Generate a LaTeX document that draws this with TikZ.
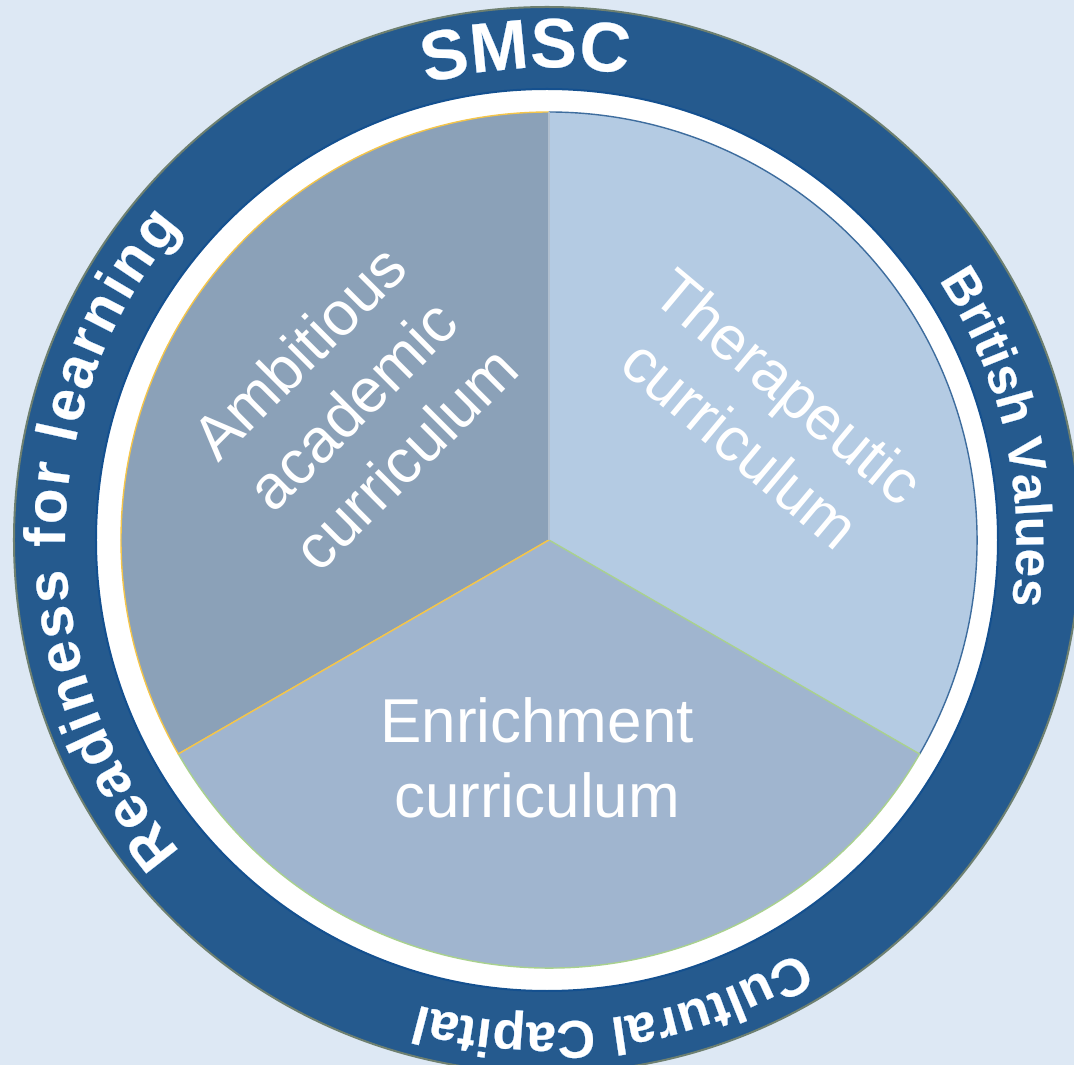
\documentclass[tikz,border=0pt]{standalone}
\usepackage{fontspec}
\setmainfont{Liberation Sans}
\usetikzlibrary{decorations.text}
\definecolor{bgc}{HTML}{DDE8F4}
\definecolor{ringblue}{HTML}{255A8E}
\definecolor{ringedge}{HTML}{6E8070}
\definecolor{ringinner}{HTML}{14508F}
\definecolor{secA}{HTML}{8BA1B8}
\definecolor{secB}{HTML}{B4CBE3}
\definecolor{secC}{HTML}{A0B5CF}
\definecolor{lineA}{HTML}{F4C54A}
\definecolor{lineB}{HTML}{3E6D9E}
\definecolor{lineC}{HTML}{A9D18E}
\definecolor{divline}{HTML}{B0BFCF}
\definecolor{glowA}{HTML}{3C74AE}
\definecolor{glowB}{HTML}{6399CE}
\tikzset{
  pietext/.style={text=white, align=center, inner sep=0pt, font=\fontsize{62}{75}\selectfont},
}
% #1 font size, #2 radius, #3 start angle, #4 end angle, #5 text, #6 alignment
\newcommand\ringlabel[6]{%
  \foreach \gr/\gc in {4/glowA,2/glowB}{%
    \foreach \ga in {0,45,...,315}{%
      \path[shift={(\ga:\gr pt)},decorate,decoration={text along path,text align=#6,
        text={|\color{\gc}\fontsize{#1}{#1}\selectfont\bfseries|#5}}]
        ([shift={(#3:#2pt)}]ringctr) arc[start angle=#3,end angle=#4,radius=#2pt];
    }%
  }%
  \path[decorate,decoration={text along path,text align=#6,
    text={|\color{white}\fontsize{#1}{#1}\selectfont\bfseries|#5}}]
    ([shift={(#3:#2pt)}]ringctr) arc[start angle=#3,end angle=#4,radius=#2pt];
}
\begin{document}
\begin{tikzpicture}[x=1pt,y=1pt]
\useasboundingbox (-549,-525) rectangle (525,540);
\fill[bgc] (-549,-525) rectangle (525,540);
\coordinate (ringctr) at (-2,0);
\coordinate (piectr) at (0,0);
% outer ring
\fill[ringblue,draw=ringedge,line width=2pt] (ringctr) circle[radius=533pt];
\fill[white,draw=ringinner,line width=2pt] (ringctr) circle[radius=451pt];
% sectors
\fill[secB] (piectr) -- (-30:428pt) arc[start angle=-30,end angle=90,radius=428pt] -- cycle;
\draw[lineB,line width=1.4pt] (-30:428pt) arc[start angle=-30,end angle=90,radius=428pt];
\fill[secA] (piectr) -- (90:428pt) arc[start angle=90,end angle=210,radius=428pt] -- cycle;
\draw[lineA,line width=1.4pt] (90:428pt) arc[start angle=90,end angle=210,radius=428pt] -- (piectr);
\fill[secC] (piectr) -- (210:428pt) arc[start angle=210,end angle=330,radius=428pt] -- cycle;
\draw[lineC,line width=1.4pt] (210:428pt) arc[start angle=210,end angle=330,radius=428pt] -- (piectr);
\draw[lineA,line width=1.4pt] (piectr) -- (210:428pt);
\draw[divline,line width=1.6pt] (piectr) -- (90:428pt);
% sector texts
\node[pietext,rotate=45] (ambitious) at (-197,135) {Ambitious\\academic\\curriculum};
\node[pietext,rotate=-40] (therapeutic) at (216,125) {Therapeutic\\curriculum};
\node[pietext] (enrichment) at (-12,-218) {Enrichment\\curriculum};
% ring texts
\ringlabel{70}{472}{107}{78}{SMSC}{center}
\ringlabel{51}{470}{33.5}{-7.5}{British Values}{fit to path}
\ringlabel{53}{483}{-58.5}{-105.5}{Cultural Capital}{fit to path}
\ringlabel{58}{481}{220.5}{139.5}{Readiness for learning}{fit to path}
\end{tikzpicture}
\end{document}
